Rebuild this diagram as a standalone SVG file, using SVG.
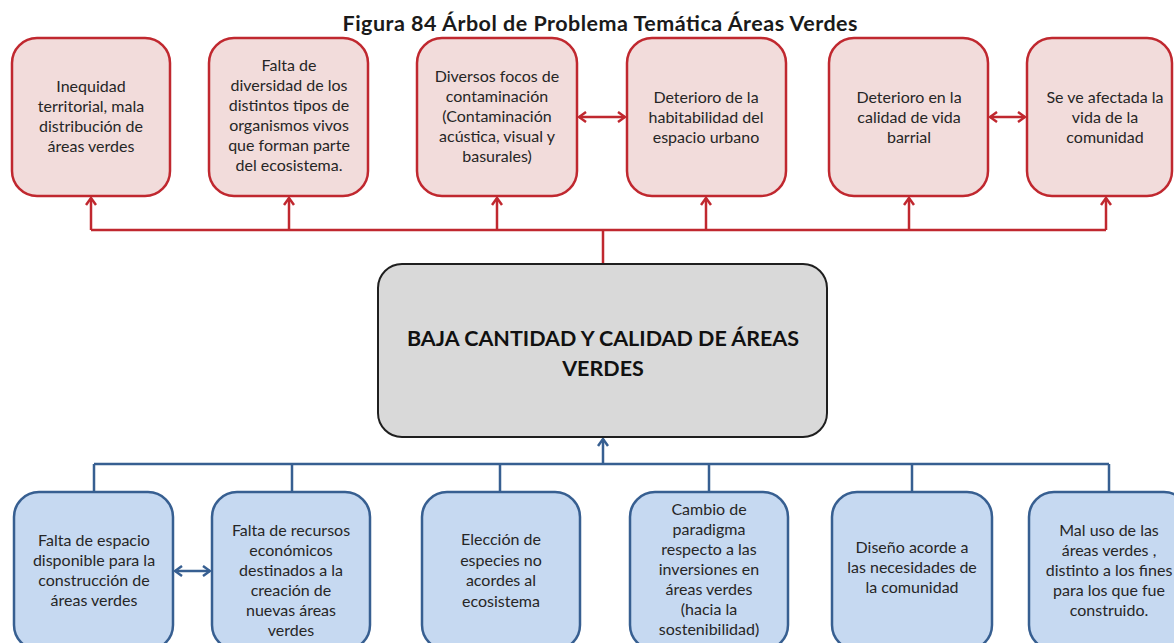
<svg xmlns="http://www.w3.org/2000/svg" width="1174" height="643" viewBox="0 0 1174 643">
<style>
.t{font-family:Lato,"Liberation Sans",sans-serif;font-size:16px;fill:#262626;text-anchor:middle}
.title{font-family:Lato,"Liberation Sans",sans-serif;font-size:21.5px;font-weight:bold;fill:#1a1a1a;text-anchor:middle}
.ct{font-family:Lato,"Liberation Sans",sans-serif;font-size:21.5px;font-weight:bold;fill:#111;text-anchor:middle}
.eff{fill:#F2DCDB;stroke:#C0282F;stroke-width:2.5}
.cau{fill:#C6D9F1;stroke:#375F91;stroke-width:2.5}
.core{fill:#D9D9D9;stroke:#1f1f1f;stroke-width:2}
.rl{fill:none;stroke:#C0282F;stroke-width:2.5}
.bl{fill:none;stroke:#375F91;stroke-width:2.5}
</style>
<defs>
<marker id="ar" viewBox="0 0 12 12" refX="10" refY="6" markerWidth="12" markerHeight="12" markerUnits="userSpaceOnUse" orient="auto-start-reverse">
<path d="M3,1 L10,6 L3,11" fill="none" stroke="#C0282F" stroke-width="2.5"/>
</marker>
<marker id="ab" viewBox="0 0 12 12" refX="10" refY="6" markerWidth="12" markerHeight="12" markerUnits="userSpaceOnUse" orient="auto-start-reverse">
<path d="M3,1 L10,6 L3,11" fill="none" stroke="#375F91" stroke-width="2.5"/>
</marker>
</defs>
<rect width="1174" height="643" fill="#ffffff"/>
<text class="title" x="600" y="31" textLength="515">Figura 84 Árbol de Problema Temática Áreas Verdes</text>

<g id="connectors">
<path class="rl" d="M603,264 V230 M91,230 H1106"/>
<path class="rl" marker-end="url(#ar)" d="M91,230 V198"/>
<path class="rl" marker-end="url(#ar)" d="M289,230 V198"/>
<path class="rl" marker-end="url(#ar)" d="M497,230 V198"/>
<path class="rl" marker-end="url(#ar)" d="M706,230 V198"/>
<path class="rl" marker-end="url(#ar)" d="M909,230 V198"/>
<path class="rl" marker-end="url(#ar)" d="M1106,230 V198"/>
<path class="rl" marker-start="url(#ar)" marker-end="url(#ar)" d="M579,117 H625"/>
<path class="rl" marker-start="url(#ar)" marker-end="url(#ar)" d="M990,117 H1025"/>
<path class="bl" d="M94,464 H1109 M94,464 V492 M292,464 V492 M500,464 V492 M709,464 V492 M912,464 V492 M1109,464 V492"/>
<path class="bl" marker-end="url(#ab)" d="M603,464 V439"/>
<path class="bl" marker-start="url(#ab)" marker-end="url(#ab)" d="M175,571 H210"/>
</g>

<g id="e1"><rect class="eff" x="12" y="38" width="158" height="158" rx="25"/>
<text class="t" x="91"><tspan x="91" y="92">Inequidad</tspan><tspan x="91" y="112">territorial, mala</tspan><tspan x="91" y="132">distribución de</tspan><tspan x="91" y="152">áreas verdes</tspan></text></g>
<g id="e2"><rect class="eff" x="209" y="38" width="159" height="158" rx="25"/>
<text class="t"><tspan x="289" y="71">Falta de</tspan><tspan x="289" y="91">diversidad de los</tspan><tspan x="289" y="111">distintos tipos de</tspan><tspan x="289" y="131">organismos vivos</tspan><tspan x="289" y="151">que forman parte</tspan><tspan x="289" y="171">del ecosistema.</tspan></text></g>
<g id="e3"><rect class="eff" x="417" y="38" width="160" height="158" rx="25"/>
<text class="t"><tspan x="497" y="82">Diversos focos de</tspan><tspan x="497" y="102">contaminación</tspan><tspan x="497" y="122">(Contaminación</tspan><tspan x="497" y="142">acústica, visual y</tspan><tspan x="497" y="162">basurales)</tspan></text></g>
<g id="e4"><rect class="eff" x="627" y="38" width="159" height="158" rx="25"/>
<text class="t"><tspan x="706" y="103">Deterioro de la</tspan><tspan x="706" y="123">habitabilidad del</tspan><tspan x="706" y="143">espacio urbano</tspan></text></g>
<g id="e5"><rect class="eff" x="829" y="38" width="159" height="158" rx="25"/>
<text class="t"><tspan x="909" y="103">Deterioro en la</tspan><tspan x="909" y="123">calidad de vida</tspan><tspan x="909" y="143">barrial</tspan></text></g>
<g id="e6"><rect class="eff" x="1027" y="38" width="145" height="158" rx="25"/>
<text class="t"><tspan x="1105" y="103">Se ve afectada la</tspan><tspan x="1105" y="123">vida de la</tspan><tspan x="1105" y="143">comunidad</tspan></text></g>

<g id="core"><rect class="core" x="378" y="264" width="449" height="173" rx="24"/>
<text class="ct"><tspan x="603" y="346">BAJA CANTIDAD Y CALIDAD DE ÁREAS</tspan><tspan x="603" y="376">VERDES</tspan></text></g>

<g id="c1"><rect class="cau" x="14" y="492" width="159" height="158" rx="25"/>
<text class="t"><tspan x="94" y="546">Falta de espacio</tspan><tspan x="94" y="566">disponible para la</tspan><tspan x="94" y="586">construcción de</tspan><tspan x="94" y="606">áreas verdes</tspan></text></g>
<g id="c2"><rect class="cau" x="212" y="492" width="158" height="158" rx="25"/>
<text class="t"><tspan x="291" y="536">Falta de recursos</tspan><tspan x="291" y="556">económicos</tspan><tspan x="291" y="576">destinados a la</tspan><tspan x="291" y="596">creación de</tspan><tspan x="291" y="616">nuevas áreas</tspan><tspan x="291" y="636">verdes</tspan></text></g>
<g id="c3"><rect class="cau" x="422" y="492" width="158" height="158" rx="25"/>
<text class="t"><tspan x="501" y="545">Elección de</tspan><tspan x="501" y="566">especies no</tspan><tspan x="501" y="586">acordes al</tspan><tspan x="501" y="607">ecosistema</tspan></text></g>
<g id="c4"><rect class="cau" x="630" y="492" width="158" height="158" rx="25"/>
<text class="t"><tspan x="709" y="515">Cambio de</tspan><tspan x="709" y="535">paradigma</tspan><tspan x="709" y="555">respecto a las</tspan><tspan x="709" y="575">inversiones en</tspan><tspan x="709" y="595">áreas verdes</tspan><tspan x="709" y="615">(hacia la</tspan><tspan x="709" y="635">sostenibilidad)</tspan></text></g>
<g id="c5"><rect class="cau" x="832" y="492" width="160" height="158" rx="25"/>
<text class="t"><tspan x="912" y="553">Diseño acorde a</tspan><tspan x="912" y="573">las necesidades de</tspan><tspan x="912" y="593">la comunidad</tspan></text></g>
<g id="c6"><rect class="cau" x="1029" y="492" width="160" height="158" rx="25"/>
<text class="t"><tspan x="1109" y="536">Mal uso de las</tspan><tspan x="1109" y="556">áreas verdes ,</tspan><tspan x="1109" y="576">distinto a los fines</tspan><tspan x="1109" y="596">para los que fue</tspan><tspan x="1109" y="616">construido.</tspan></text></g>
</svg>
